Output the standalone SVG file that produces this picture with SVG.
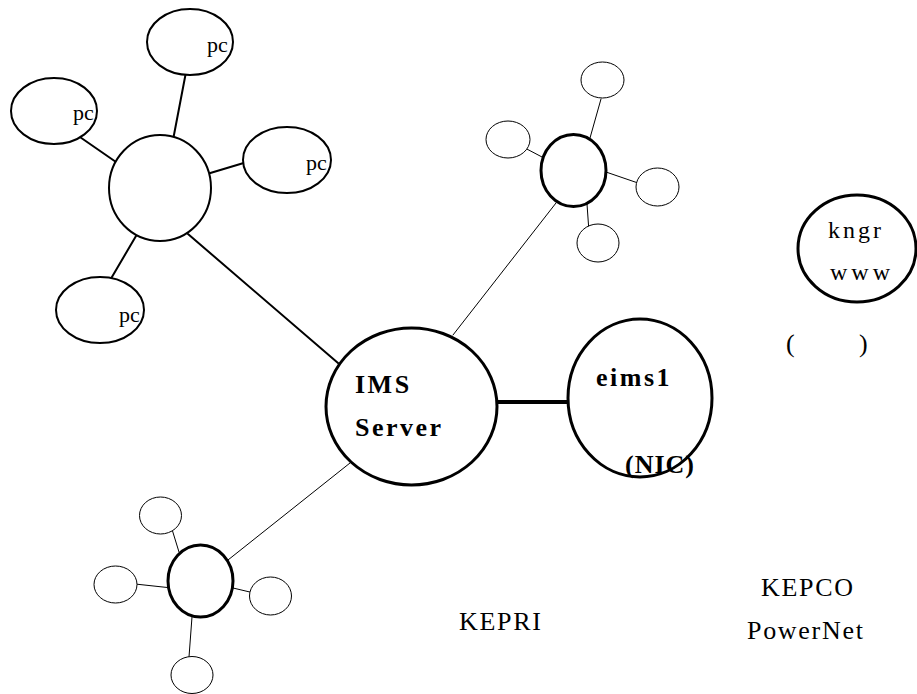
<svg xmlns="http://www.w3.org/2000/svg" width="917" height="694" viewBox="0 0 917 694">
<style>
.n{fill:#fff;stroke:#000}
.w3{stroke-width:3}
.w2{stroke-width:2}
.w1{stroke-width:1}
.t{font-family:"Liberation Serif","Times New Roman",serif;fill:#000}
.b{font-weight:bold;font-size:26px;letter-spacing:2.5px}
.pc{font-size:22px}
.r{font-size:26px;letter-spacing:1.7px}
line{stroke:#000;stroke-linecap:round}
</style>
<rect width="917" height="694" fill="#fff"/>
<g id="connectors">
<line x1="186" y1="72" x2="173" y2="140" stroke-width="2"/>
<line x1="77" y1="135" x2="116" y2="162" stroke-width="2"/>
<line x1="247" y1="162" x2="207" y2="174" stroke-width="2"/>
<line x1="136" y1="236" x2="109" y2="282" stroke-width="2"/>
<line x1="188" y1="234" x2="338" y2="363" stroke-width="2"/>
<line x1="497" y1="402" x2="568" y2="402" stroke-width="4"/>
<line x1="453" y1="335" x2="556" y2="203" stroke-width="1"/>
<line x1="601" y1="99" x2="590" y2="138" stroke-width="1"/>
<line x1="523" y1="147" x2="542" y2="157" stroke-width="1"/>
<line x1="603" y1="171" x2="638" y2="183" stroke-width="1"/>
<line x1="587" y1="204" x2="589" y2="232" stroke-width="1"/>
<line x1="228" y1="560" x2="350" y2="463" stroke-width="1"/>
<line x1="171" y1="526" x2="179" y2="552" stroke-width="1"/>
<line x1="135" y1="584" x2="172" y2="588" stroke-width="1"/>
<line x1="233" y1="588" x2="254" y2="593" stroke-width="1"/>
<line x1="192" y1="617" x2="189" y2="657" stroke-width="1"/>
</g>
<g id="hub1"><ellipse class="n w2" cx="160" cy="188" rx="51" ry="53"/></g>
<g id="pc1"><ellipse class="n w2" cx="190" cy="42" rx="43" ry="33"/><text class="t pc" x="207" y="52">pc</text></g>
<g id="pc2"><ellipse class="n w2" cx="54" cy="111" rx="43" ry="33"/><text class="t pc" x="73" y="120">pc</text></g>
<g id="pc3"><ellipse class="n w2" cx="287" cy="160" rx="44" ry="33"/><text class="t pc" x="306" y="170">pc</text></g>
<g id="pc4"><ellipse class="n w2" cx="100" cy="310" rx="44" ry="33"/><text class="t pc" x="119" y="322">pc</text></g>
<g id="ims"><ellipse class="n w3" cx="411.5" cy="406.5" rx="85.5" ry="78.5"/><text class="t b" x="355" y="393">IMS</text><text class="t b" x="355" y="436">Server</text></g>
<g id="eims1"><ellipse class="n w3" cx="640" cy="398" rx="72" ry="79"/><text class="t b" x="596" y="386">eims1</text><text class="t b" x="625" y="473" style="letter-spacing:1px">(NIC)</text></g>
<g id="hub2"><ellipse class="n w3" cx="573.5" cy="170.5" rx="32.5" ry="36"/></g>
<g id="s1"><ellipse class="n w1" cx="602.5" cy="80" rx="21.5" ry="18"/></g>
<g id="s2"><ellipse class="n w1" cx="508" cy="139.5" rx="22" ry="18.5"/></g>
<g id="s3"><ellipse class="n w1" cx="657.5" cy="187" rx="21.5" ry="19"/></g>
<g id="s4"><ellipse class="n w1" cx="598" cy="243" rx="21" ry="19"/></g>
<g id="hub3"><ellipse class="n w3" cx="200.5" cy="581" rx="32.5" ry="36"/></g>
<g id="s5"><ellipse class="n w1" cx="160.5" cy="515.5" rx="21" ry="18.5"/></g>
<g id="s6"><ellipse class="n w1" cx="115.5" cy="584.5" rx="21.5" ry="18.5"/></g>
<g id="s7"><ellipse class="n w1" cx="270.5" cy="596" rx="21" ry="19"/></g>
<g id="s8"><ellipse class="n w1" cx="192" cy="675" rx="21" ry="18.5"/></g>
<g id="kngr"><ellipse class="n w3" cx="857" cy="248.5" rx="59" ry="53.5"/><text class="t" x="828" y="238" style="font-size:24px;letter-spacing:3px">kngr</text><text class="t" x="830" y="280" style="font-size:24px;letter-spacing:4px">www</text></g>
<g id="paren"><text class="t r" x="786" y="352">(</text><text class="t r" x="859" y="352">)</text></g>
<g id="kepri"><text class="t r" x="459" y="630">KEPRI</text></g>
<g id="kepco"><text class="t r" x="761" y="596">KEPCO</text><text class="t r" x="747" y="639">PowerNet</text></g>
</svg>
